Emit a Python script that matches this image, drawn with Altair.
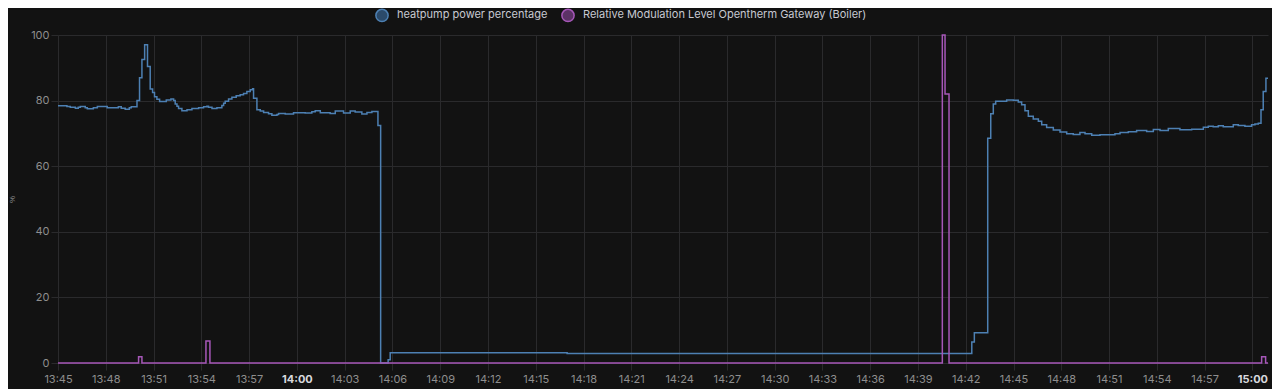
import altair as alt
import pandas as pd

SERIES = ["heatpump power percentage", "Relative Modulation Level Opentherm Gateway (Boiler)"]
LINE_COLORS = ["#4d80b3", "#a657b8"]
FILL_COLORS = ["#2b4a6a", "#5c3266"]

# minutes after 13:45
hp_t = [0.00, 0.56, 0.77, 1.09, 1.27, 1.40, 1.71, 1.84, 2.22, 2.47, 3.09, 3.79, 3.97, 4.22, 4.48, 4.60,
        4.96, 5.12, 5.27, 5.44, 5.62, 5.79, 5.94, 6.06, 6.21, 6.38, 6.80, 7.09, 7.26, 7.36, 7.47, 7.57,
        7.78, 8.10, 8.41, 8.83, 9.14, 9.35, 9.45, 9.67, 9.98, 10.29, 10.40, 10.50, 10.71, 10.92, 11.19,
        11.44, 11.65, 11.86, 12.07, 12.22, 12.28, 12.49, 12.70, 12.91, 13.22, 13.43, 13.75, 13.85, 14.27,
        14.79, 15.52, 15.94, 16.15, 16.47, 17.09, 17.41, 17.93, 18.35, 18.66, 19.08, 19.40, 19.71, 20.09,
        20.26, 20.73, 20.86, 31.97, 57.38, 57.54, 58.38, 58.57, 58.73, 58.88, 59.57, 59.99, 60.30, 60.51,
        60.72, 60.93, 61.24, 61.56, 61.77, 62.08, 62.50, 62.92, 63.34, 63.75, 64.17, 64.49, 64.91, 65.43,
        66.37, 66.69, 67.21, 67.73, 68.36, 68.78, 69.20, 69.72, 70.45, 71.19, 71.92, 72.23, 72.54, 72.86,
        73.17, 73.80, 74.11, 74.53, 74.95, 75.16, 75.37, 75.54, 75.68, 75.85, 75.98]
hp_v = [78.4, 78.2, 78.0, 77.7, 78.0, 78.2, 77.8, 77.5, 77.8, 78.2, 77.8, 78.1, 77.7, 77.4, 77.8, 78.1,
        80.0, 87.0, 92.5, 97.0, 90.4, 83.5, 82.5, 81.2, 80.4, 79.7, 80.2, 80.5, 80.0, 79.0, 78.3, 77.6,
        76.9, 77.2, 77.6, 77.8, 78.1, 78.3, 78.0, 77.6, 77.8, 78.5, 79.2, 79.8, 80.5, 81.0, 81.5,
        81.8, 82.2, 82.8, 83.3, 83.6, 80.7, 77.2, 76.8, 76.4, 76.0, 75.5, 75.8, 76.1, 75.9,
        76.3, 76.2, 76.6, 76.9, 76.3, 76.1, 76.8, 76.2, 76.8, 76.5, 75.9, 76.4, 76.7, 72.4,
        0.0, 1.0, 3.1, 2.9, 6.4, 9.2, 68.5, 76.0, 79.0, 79.8, 80.2, 80.1, 79.6, 78.7,
        76.9, 75.2, 74.4, 73.7, 72.6, 71.8, 71.0, 70.4, 69.9, 69.7, 70.3, 69.9, 69.4, 69.6,
        69.9, 70.3, 70.5, 70.9, 70.6, 71.2, 70.9, 71.5, 71.1, 71.3, 71.9, 72.2, 72.0, 72.3,
        72.0, 72.6, 72.4, 72.2, 72.6, 72.9, 73.1, 77.2, 82.8, 86.8, 86.8]

boiler_t = [0.00, 5.06, 5.27, 9.29, 9.54, 55.53, 55.70, 55.95, 75.58, 75.83, 75.98]
boiler_v = [0.0, 1.9, 0.0, 6.7, 0.0, 100.0, 82.0, 0.0, 1.9, 0.0, 0.0]

X_MAX = 75.98  # minutes after 13:45 at right edge of plot
TICKS = list(range(0, 76, 3))

df = pd.concat([
    pd.DataFrame({"t": hp_t, "value": hp_v, "series": SERIES[0]}),
    pd.DataFrame({"t": boiler_t, "value": boiler_v, "series": SERIES[1]}),
], ignore_index=True)

GRID = "#2a2a2c"
LABEL = "#8e8e8e"
BG = "#121212"

# minutes after 13:45 -> "HH:MM"
LABEL_EXPR = ("(floor((datum.value + 825) / 60) < 10 ? '0' : '') + floor((datum.value + 825) / 60) + ':' + "
              "((datum.value + 825) % 60 < 10 ? '0' : '') + ((datum.value + 825) % 60)")
HOUR_TEST = "(datum.value + 825) % 60 === 0"

legend = alt.Legend(
    title=None, orient="none", legendX=317, legendY=-27, direction="horizontal",
    symbolType="circle", symbolSize=150, symbolStrokeWidth=1.5, symbolOpacity=1,
    labelColor="#c7c9d1", labelFont="Inter", labelFontSize=11, labelOffset=8, labelLimit=0,
    columnPadding=10, padding=0,
)

x_enc = alt.X(
    "t:Q",
    scale=alt.Scale(domain=[0, X_MAX], nice=False, zero=False),
    axis=alt.Axis(
        title=None, values=TICKS, labelExpr=LABEL_EXPR,
        grid=True, gridColor=GRID, domain=False, ticks=True, tickSize=7, tickColor=GRID,
        labelColor={"condition": {"test": HOUR_TEST, "value": "#d8d9de"}, "value": LABEL},
        labelFontWeight={"condition": {"test": HOUR_TEST, "value": "bold"}, "value": "normal"},
        labelFont="Inter", labelFontSize=11, labelPadding=3, labelFlush=False,
    ),
)
y_enc = alt.Y(
    "value:Q",
    scale=alt.Scale(domain=[0, 100], nice=False),
    axis=alt.Axis(
        title="%", titleFontSize=8, titleColor=LABEL, titleX=-42, titleY=164, titleFontWeight="normal",
        values=[0, 20, 40, 60, 80, 100], grid=True, gridColor=GRID, domain=False,
        tickSize=7, tickColor=GRID, labelColor=LABEL, labelFont="Inter", labelFontSize=11, labelPadding=2,
    ),
)

lines = alt.Chart(df).mark_line(interpolate="step-after", strokeWidth=1.5).encode(
    x=x_enc,
    y=y_enc,
    stroke=alt.Stroke("series:N", scale=alt.Scale(domain=SERIES, range=LINE_COLORS), legend=legend),
)

# invisible points only to give the legend circles their darker fill
legend_fill = alt.Chart(df).mark_point(filled=True, opacity=0, size=1).encode(
    x=alt.X("t:Q"),
    y=alt.Y("value:Q"),
    fill=alt.Fill("series:N", scale=alt.Scale(domain=SERIES, range=FILL_COLORS), legend=legend),
)

chart = alt.layer(lines, legend_fill).properties(
    width=1210, height=328,
    padding={"left": 50, "top": 27, "right": 4, "bottom": 26},
    autosize=alt.AutoSizeParams(type="none"),
    background=BG,
).configure_view(stroke=None)

chart.save("out.html", embed_options={"renderer": "svg", "actions": False})
